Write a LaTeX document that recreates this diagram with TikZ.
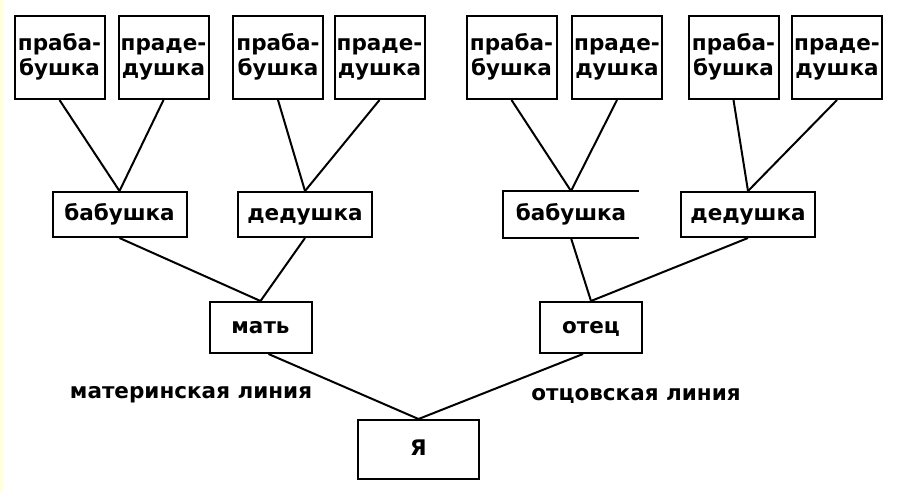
\documentclass[tikz,border=0pt]{standalone}
\usepackage{fontspec}
\setmainfont{DejaVu Sans}
\definecolor{stripe}{HTML}{FFFFD8}
\newcommand{\twolines}[2]{#1\strut\\#2\strut}
\tikzset{
  box/.style={draw, line width=2pt, inner sep=0pt,
    font=\fontsize{21.5}{25}\bfseries\selectfont},
  greatbox/.style={box, align=center, minimum width=90pt, minimum height=83pt},
  onebox/.style={box, text height=12pt, text depth=0pt},
  grandbox/.style={onebox, minimum width=134pt, minimum height=45pt},
  parentbox/.style={onebox, minimum width=102pt, minimum height=51pt},
  linelabel/.style={font=\fontsize{21.5}{25}\bfseries\selectfont}
}
\begin{document}
\begin{tikzpicture}[x=1pt, y=-1pt]
  \useasboundingbox (0,0) rectangle (897,491);
  \fill[stripe] (0,0) rectangle (3,491);
  % great-grandparents
  \node[greatbox] (gm1) at (59.5,57.5) {\twolines{праба-}{бушка}};
  \node[greatbox] (gf1) at (163.5,57.5) {\twolines{праде-}{душка}};
  \node[greatbox] (gm2) at (278,57.5) {\twolines{праба-}{бушка}};
  \node[greatbox] (gf2) at (379.5,57.5) {\twolines{праде-}{душка}};
  \node[greatbox] (gm3) at (511.5,57.5) {\twolines{праба-}{бушка}};
  \node[greatbox] (gf3) at (617,57.5) {\twolines{праде-}{душка}};
  \node[greatbox] (gm4) at (733.5,57.5) {\twolines{праба-}{бушка}};
  \node[greatbox] (gf4) at (837,57.5) {\twolines{праде-}{душка}};
  % grandparents
  \node[grandbox] (b1) at (119.5,214.5) {бабушка};
  \node[grandbox] (d1) at (305,214.5) {дедушка};
  \node[grandbox, draw=none] (b2) at (571,214.5) {бабушка};
  \node[grandbox] (d2) at (748,214.5) {дедушка};
  \draw[line width=2pt] (b2.north east) -- (b2.north west)
    -- (b2.south west) -- (b2.south east);
  % parents and me
  \node[parentbox] (mother) at (260.5,327.5) {мать};
  \node[parentbox] (father) at (591,327.5) {отец};
  \node[onebox, minimum width=121pt, minimum height=59pt] (me) at (418.5,449.5) {Я};
  \node[linelabel] (mline) at (191,395) {материнская линия};
  \node[linelabel] (fline) at (636,396) {отцовская линия};
  \begin{scope}[line width=2pt]
    \draw (gm1.south) to (b1.north);
    \draw (gf1.south) to (b1.north);
    \draw (gm2.south) to (d1.north);
    \draw (gf2.south) to (d1.north);
    \draw (gm3.south) to (b2.north);
    \draw (gf3.south) to (b2.north);
    \draw (gm4.south) to (d2.north);
    \draw (gf4.south) to (d2.north);
    \draw (b1.south) to (mother.north);
    \draw (d1.south) to (mother.north);
    \draw (b2.south) to (father.north);
    \draw (d2.south) to (father.north);
    \draw ([xshift=8pt]mother.south) to (me.north);
    \draw ([xshift=-8pt]father.south) to (me.north);
  \end{scope}
\end{tikzpicture}
\end{document}
